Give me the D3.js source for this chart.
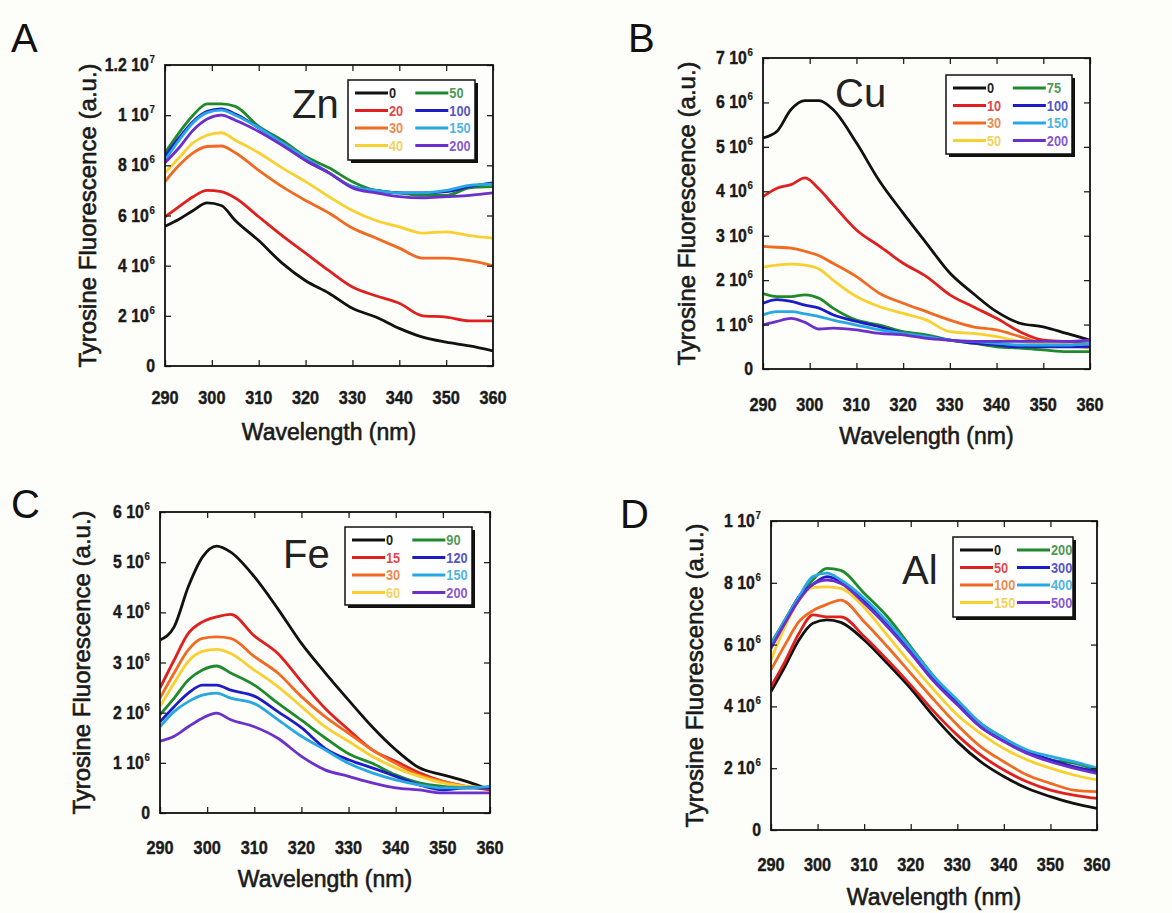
<!DOCTYPE html>
<html>
<head>
<meta charset="utf-8">
<script src="https://cdn.jsdelivr.net/npm/d3@7"></script>
<style>
  html, body { margin: 0; padding: 0; background: #fdfdf9; }
  svg { display: block; }
  .tick-lab { font-family: "Liberation Sans", Arial, sans-serif; font-weight: bold; }
  .ax-title { font-family: "Liberation Sans", Arial, sans-serif; }
  .plain { font-family: "Liberation Sans", Arial, sans-serif; }
</style>
</head>
<body>
<div id="chart"></div>
<script>
const wavelengths = [290, 293, 296, 299, 302, 305, 310, 315, 320, 325, 330, 335, 340, 345, 350, 355, 360]

// series colours, same order in every panel
const seriesColors = ["#111111", "#e0201f", "#f26a22", "#f9d030", "#1f8a2c", "#1d1dc6", "#27a8e3", "#6d2fcc"]
const labelColors = ["#222222", "#e0484c", "#ef8a50", "#f3d25c", "#4c9a55", "#5555c4", "#4fb4e4", "#8a58cf"]

// fluorescence values in units of 1e6
const znLabels = ["0", "20", "30", "40", "50", "100", "150", "200"]
const znValues = [
  [5.57, 5.85, 6.2, 6.5, 6.4, 5.8, 5.0, 4.1, 3.4, 2.9, 2.3, 1.95, 1.5, 1.15, 0.95, 0.8, 0.6],
  [5.95, 6.35, 6.75, 7.0, 6.95, 6.7, 5.95, 5.2, 4.5, 3.8, 3.15, 2.8, 2.5, 2.0, 1.95, 1.8, 1.8],
  [7.35, 8.0, 8.5, 8.75, 8.77, 8.5, 7.8, 7.15, 6.6, 6.1, 5.5, 5.1, 4.7, 4.3, 4.3, 4.2, 4.0],
  [7.7, 8.3, 8.9, 9.2, 9.3, 9.0, 8.5, 7.9, 7.35, 6.75, 6.2, 5.8, 5.55, 5.3, 5.35, 5.2, 5.1],
  [8.5, 9.3, 10.0, 10.45, 10.45, 10.35, 9.55, 9.0, 8.35, 7.9, 7.35, 7.0, 6.9, 6.8, 6.8, 7.1, 7.15],
  [8.35, 9.1, 9.75, 10.15, 10.25, 10.05, 9.5, 8.9, 8.2, 7.7, 7.15, 7.0, 6.9, 6.9, 6.95, 7.15, 7.3],
  [8.2, 9.0, 9.7, 10.1, 10.2, 10.0, 9.5, 8.9, 8.3, 7.7, 7.15, 7.0, 6.9, 6.9, 7.0, 7.2, 7.25],
  [8.1, 8.7, 9.4, 9.85, 10.0, 9.8, 9.35, 8.8, 8.2, 7.7, 7.1, 6.9, 6.75, 6.7, 6.75, 6.8, 6.9]
]
const znTicks = [0, 2, 4, 6, 8, 10, 12]

const cuLabels = ["0", "10", "30", "50", "75", "100", "150", "200"]
const cuValues = [
  [5.2, 5.35, 5.84, 6.04, 6.04, 5.84, 5.09, 4.22, 3.51, 2.83, 2.16, 1.7, 1.29, 1.03, 0.95, 0.8, 0.65],
  [3.88, 4.07, 4.15, 4.3, 4.05, 3.7, 3.13, 2.76, 2.38, 2.08, 1.67, 1.4, 1.14, 0.84, 0.65, 0.62, 0.58],
  [2.76, 2.74, 2.72, 2.65, 2.55, 2.38, 2.08, 1.7, 1.48, 1.29, 1.1, 0.95, 0.88, 0.73, 0.58, 0.54, 0.5],
  [2.3, 2.34, 2.36, 2.34, 2.25, 2.0, 1.63, 1.4, 1.25, 1.1, 0.84, 0.8, 0.73, 0.62, 0.58, 0.54, 0.47],
  [1.7, 1.63, 1.63, 1.67, 1.59, 1.37, 1.1, 0.99, 0.84, 0.77, 0.65, 0.58, 0.5, 0.47, 0.43, 0.39, 0.39],
  [1.48, 1.56, 1.52, 1.44, 1.37, 1.22, 1.07, 0.95, 0.8, 0.73, 0.65, 0.58, 0.54, 0.5, 0.5, 0.5, 0.5],
  [1.22, 1.29, 1.29, 1.24, 1.18, 1.1, 0.99, 0.88, 0.8, 0.73, 0.65, 0.62, 0.58, 0.54, 0.54, 0.54, 0.58],
  [0.99, 1.07, 1.14, 1.05, 0.9, 0.92, 0.88, 0.8, 0.77, 0.69, 0.65, 0.62, 0.62, 0.62, 0.62, 0.62, 0.65]
]
const cuTicks = [0, 1, 2, 3, 4, 5, 6, 7]

const feLabels = ["0", "15", "30", "60", "90", "120", "150", "200"]
const feValues = [
  [3.45, 3.71, 4.51, 5.1, 5.32, 5.2, 4.71, 4.07, 3.38, 2.8, 2.25, 1.72, 1.26, 0.9, 0.76, 0.63, 0.46],
  [2.49, 3.05, 3.58, 3.81, 3.91, 3.96, 3.53, 3.18, 2.62, 2.09, 1.66, 1.26, 1.03, 0.8, 0.63, 0.53, 0.46],
  [2.29, 2.79, 3.25, 3.48, 3.51, 3.48, 3.12, 2.79, 2.32, 1.92, 1.59, 1.26, 0.99, 0.76, 0.63, 0.53, 0.5],
  [2.12, 2.59, 3.02, 3.22, 3.26, 3.18, 2.85, 2.52, 2.12, 1.72, 1.43, 1.13, 0.9, 0.73, 0.6, 0.53, 0.5],
  [1.96, 2.29, 2.65, 2.85, 2.93, 2.79, 2.55, 2.19, 1.85, 1.5, 1.18, 0.99, 0.76, 0.6, 0.53, 0.5, 0.5],
  [1.82, 2.12, 2.39, 2.55, 2.55, 2.45, 2.33, 2.02, 1.7, 1.29, 1.06, 0.9, 0.73, 0.56, 0.46, 0.5, 0.5],
  [1.72, 2.02, 2.22, 2.35, 2.39, 2.29, 2.18, 1.86, 1.53, 1.26, 0.99, 0.8, 0.66, 0.56, 0.5, 0.5, 0.53],
  [1.43, 1.53, 1.72, 1.89, 1.99, 1.86, 1.72, 1.49, 1.13, 0.86, 0.73, 0.6, 0.5, 0.46, 0.4, 0.4, 0.4]
]
const feTicks = [0, 1, 2, 3, 4, 5, 6]

const alLabels = ["0", "50", "100", "150", "200", "300", "400", "500"]
const alValues = [
  [4.48, 5.29, 6.15, 6.69, 6.8, 6.72, 6.15, 5.39, 4.58, 3.67, 2.86, 2.21, 1.73, 1.35, 1.08, 0.86, 0.7],
  [4.64, 5.45, 6.36, 6.96, 6.9, 6.9, 6.26, 5.5, 4.69, 3.83, 3.07, 2.43, 1.94, 1.56, 1.29, 1.13, 1.02],
  [5.18, 5.99, 6.74, 7.1, 7.3, 7.44, 6.74, 5.93, 5.07, 4.21, 3.4, 2.7, 2.21, 1.78, 1.51, 1.29, 1.24],
  [5.5, 6.58, 7.44, 7.85, 7.87, 7.82, 7.2, 6.3, 5.39, 4.53, 3.72, 3.13, 2.64, 2.27, 2.0, 1.78, 1.62],
  [6.04, 6.8, 7.55, 8.1, 8.47, 8.4, 7.66, 6.9, 5.93, 4.96, 4.1, 3.45, 2.97, 2.54, 2.27, 2.16, 1.94],
  [5.93, 6.74, 7.55, 7.95, 8.2, 8.04, 7.44, 6.69, 5.77, 4.85, 4.1, 3.34, 2.91, 2.54, 2.27, 2.05, 1.89],
  [5.99, 6.8, 7.55, 8.2, 8.31, 8.09, 7.5, 6.74, 5.88, 4.96, 4.21, 3.45, 2.97, 2.59, 2.38, 2.21, 2.0],
  [5.88, 6.69, 7.44, 7.95, 8.09, 7.98, 7.34, 6.58, 5.72, 4.8, 4.05, 3.34, 2.86, 2.48, 2.21, 2.0, 1.83]
]
const alTicks = [0, 2, 4, 6, 8, 10]

const xTicks = [290, 300, 310, 320, 330, 340, 350, 360]

// panel layout (pixel boxes measured on the reference)
const panels = [
  { letter: "A", element: "Zn", labels: znLabels, values: znValues, ticks: znTicks,
    box: [165, 65, 493, 366], letterPos: [11, 52], elemPos: [292, 118], yTitleX: 88, xLabY: 404, xTitleY: 440,
    legend: [348, 80, 127, 80] },
  { letter: "B", element: "Cu", labels: cuLabels, values: cuValues, ticks: cuTicks,
    box: [763, 58, 1090, 369], letterPos: [628, 52], elemPos: [835, 107], yTitleX: 687, xLabY: 411, xTitleY: 444,
    legend: [946, 75, 126, 79] },
  { letter: "C", element: "Fe", labels: feLabels, values: feValues, ticks: feTicks,
    box: [160, 512, 490, 813], letterPos: [11, 518], elemPos: [283, 568], yTitleX: 82, xLabY: 854, xTitleY: 887,
    legend: [345, 527, 127, 78] },
  { letter: "D", element: "Al", labels: alLabels, values: alValues, ticks: alTicks,
    box: [771, 521, 1097, 830], letterPos: [620, 528], elemPos: [902, 584], yTitleX: 695, xLabY: 871, xTitleY: 905,
    legend: [953, 537, 120, 80] }
]

const width = 1172
const height = 913
const narrow = 0.88 // horizontal squeeze to mimic the condensed bold face

const svg = d3.select("#chart").append("svg")
  .attr("width", width)
  .attr("height", height)

svg.append("rect").attr("width", width).attr("height", height).attr("fill", "#fdfdf9")

const fmtTick = (v) => {
  if (v === 0) return { base: "0", exp: null }
  if (v >= 10) return { base: (v / 10) + " 10", exp: "7" }
  return { base: v + " 10", exp: "6" }
}

panels.forEach((p, pi) => {
  const [x0, y0, x1, y1] = p.box
  const yMax = p.ticks[p.ticks.length - 1]

  const x = d3.scaleLinear().domain([290, 360]).range([x0, x1])
  const y = d3.scaleLinear().domain([0, yMax]).range([y1, y0])

  const g = svg.append("g")

  // clip for the curves
  g.append("clipPath").attr("id", "clip" + pi)
    .append("rect").attr("x", x0).attr("y", y0).attr("width", x1 - x0).attr("height", y1 - y0)

  // curves
  const line = d3.line()
    .x((d, i) => x(wavelengths[i]))
    .y((d) => y(d))
    .curve(d3.curveMonotoneX)

  g.append("g").attr("clip-path", `url(#clip${pi})`)
    .selectAll("path")
    .data(p.values)
    .join("path")
    .attr("d", line)
    .attr("fill", "none")
    .attr("stroke", (d, i) => seriesColors[i])
    .attr("stroke-width", 2.8)
    .attr("stroke-linejoin", "round")

  // inward ticks on all four sides
  const bottom = g.append("g").attr("transform", `translate(0,${y1})`)
    .call(d3.axisBottom(x).tickValues(xTicks).tickSizeInner(-6).tickSizeOuter(0).tickFormat(""))
  const top = g.append("g").attr("transform", `translate(0,${y0})`)
    .call(d3.axisTop(x).tickValues(xTicks).tickSizeInner(-6).tickSizeOuter(0).tickFormat(""))
  const left = g.append("g").attr("transform", `translate(${x0},0)`)
    .call(d3.axisLeft(y).tickValues(p.ticks).tickSizeInner(-6).tickSizeOuter(0).tickFormat(""))
  const right = g.append("g").attr("transform", `translate(${x1},0)`)
    .call(d3.axisRight(y).tickValues(p.ticks).tickSizeInner(-6).tickSizeOuter(0).tickFormat(""))
  ;[bottom, top, left, right].forEach((a) => {
    a.select(".domain").remove()
    a.selectAll(".tick line").attr("stroke", "#222").attr("stroke-width", 1.3)
  })

  // frame
  g.append("rect")
    .attr("x", x0).attr("y", y0).attr("width", x1 - x0).attr("height", y1 - y0)
    .attr("fill", "none").attr("stroke", "#111").attr("stroke-width", 1.8)

  // x tick labels
  g.append("g").selectAll("text")
    .data(xTicks)
    .join("text")
    .attr("class", "tick-lab")
    .attr("transform", (d) => `translate(${x(d)},${p.xLabY}) scale(${narrow},1)`)
    .attr("text-anchor", "middle")
    .attr("font-size", 18.5)
    .attr("fill", "#1a1a1a")
    .attr("stroke", "#1a1a1a")
    .attr("stroke-width", 0.4)
    .text((d) => d)

  // y tick labels with exponent
  g.append("g").selectAll("text")
    .data(p.ticks)
    .join("text")
    .attr("class", "tick-lab")
    .attr("transform", (d) => `translate(${x0 - 10},${y(d) + 6}) scale(${narrow},1)`)
    .attr("text-anchor", "end")
    .attr("font-size", 18)
    .attr("fill", "#1a1a1a")
    .attr("stroke", "#1a1a1a")
    .attr("stroke-width", 0.4)
    .each(function (d) {
      const f = fmtTick(d)
      const t = d3.select(this)
      t.append("tspan").text(f.base)
      if (f.exp) t.append("tspan").attr("dy", -8).attr("dx", 1).attr("font-size", 11).attr("stroke-width", 0.2).text(f.exp)
    })

  // axis titles
  g.append("text")
    .attr("class", "ax-title")
    .attr("x", (x0 + x1) / 2)
    .attr("y", p.xTitleY)
    .attr("text-anchor", "middle")
    .attr("font-size", 23)
    .attr("fill", "#1a1a1a")
    .attr("stroke", "#1a1a1a")
    .attr("stroke-width", 0.6)
    .text("Wavelength (nm)")

  g.append("text")
    .attr("class", "ax-title")
    .attr("transform", `translate(${p.yTitleX + 8},${(y0 + y1) / 2}) rotate(-90)`)
    .attr("text-anchor", "middle")
    .attr("font-size", 24)
    .attr("fill", "#1a1a1a")
    .attr("stroke", "#1a1a1a")
    .attr("stroke-width", 0.6)
    .text("Tyrosine Fluorescence (a.u.)")

  // panel letter and element
  g.append("text")
    .attr("class", "plain")
    .attr("x", p.letterPos[0]).attr("y", p.letterPos[1])
    .attr("font-size", 40)
    .attr("fill", "#111")
    .text(p.letter)

  g.append("text")
    .attr("class", "plain")
    .attr("x", p.elemPos[0]).attr("y", p.elemPos[1])
    .attr("font-size", 40)
    .attr("fill", "#222")
    .text(p.element)

  // legend
  const [lx, ly, lw, lh] = p.legend
  const leg = g.append("g")
  leg.append("rect")
    .attr("x", lx + 3).attr("y", ly + 3).attr("width", lw).attr("height", lh)
    .attr("fill", "#111")
  leg.append("rect")
    .attr("x", lx).attr("y", ly).attr("width", lw).attr("height", lh)
    .attr("fill", "#fff").attr("stroke", "#111").attr("stroke-width", 1.5)

  p.labels.forEach((lab, i) => {
    const col = Math.floor(i / 4)
    const row = i % 4
    const cx = lx + 7 + col * (lw * 0.475)
    const cy = ly + 13 + row * 17.5
    leg.append("line")
      .attr("x1", cx).attr("x2", cx + 33)
      .attr("y1", cy).attr("y2", cy)
      .attr("stroke", seriesColors[i]).attr("stroke-width", 2.8)
    leg.append("text")
      .attr("class", "tick-lab")
      .attr("transform", `translate(${cx + 34},${cy + 5}) scale(${narrow},1)`)
      .attr("font-size", 14.5)
      .attr("fill", labelColors[i])
      .text(lab)
  })
})
</script>
</body>
</html>
